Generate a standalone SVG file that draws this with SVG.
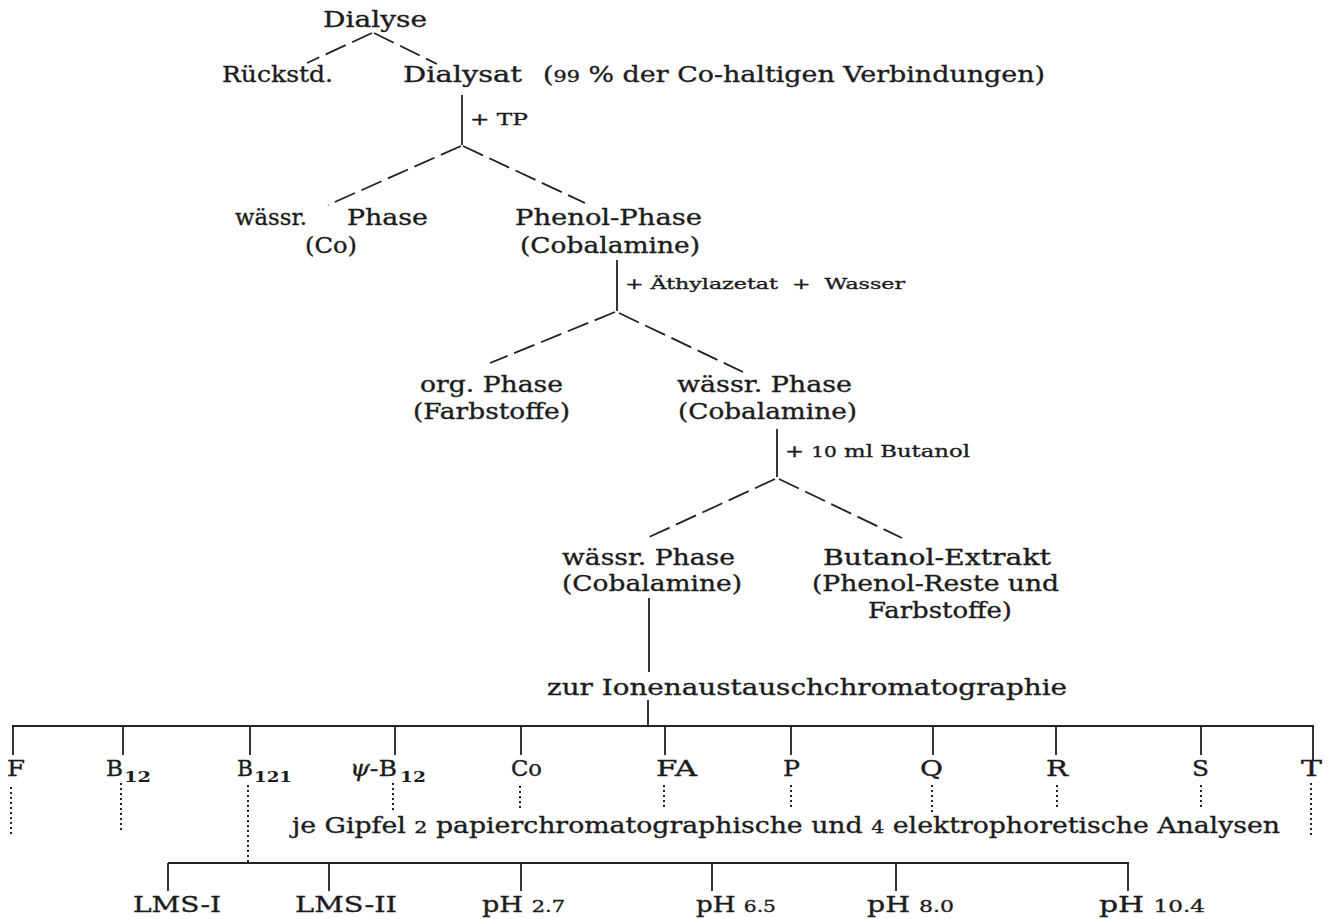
<svg xmlns="http://www.w3.org/2000/svg" width="1331" height="919" viewBox="0 0 1331 919">
<style>
.t{font-family:"DejaVu Serif","Liberation Serif",serif;font-size:22px;fill:#1c1c1c;stroke:#1c1c1c;stroke-width:0.35}
.s{font-size:17px}
.xs{font-size:15px}
.sub{font-size:15px;font-weight:bold;stroke-width:0}
.o{font-size:17px}
.c{stroke:#222;stroke-width:1.8;fill:none}
.d{stroke-dasharray:22 7}
.dot{stroke-dasharray:2 3;stroke-width:2}
</style>
<rect width="1331" height="919" fill="#fff"/>
<g id="connectors">
<path class="c d" d="M372 33L307 63M374 33L437 64"/>
<path class="c" d="M462 95V145"/>
<path class="c d" d="M461 146L328 205M463 146L585 203"/>
<path class="c" d="M617 260V311"/>
<path class="c d" d="M615 312L490 363M619 313L743 372"/>
<path class="c" d="M777 429V477"/>
<path class="c d" d="M775 479L647 538M779 479L902 538"/>
<path class="c" d="M649 598V672M648 700V726"/>
<path class="c" d="M12 726H1314M13 726V755M123 726V755M250 726V755M395 726V755M521 726V755M665 726V755M791 726V755M933 726V755M1056 726V755M1201 726V755M1313 726V760"/>
<path class="c dot" d="M11 787V837M121 783V833M248 785V862M393 783V810M520 786V809M664 785V810M791 785V810M932 785V812M1057 785V810M1201 785V810M1311 783V838"/>
<path class="c" d="M168 863H1129M168 863V891M329 863V891M521 863V891M712 863V891M896 863V891M1128 863V891"/>
</g>
<g id="n-dialyse"><text class="t" x="323" y="27" textLength="104" lengthAdjust="spacingAndGlyphs">Dialyse</text></g>
<g id="n-rueckstd"><text class="t" x="222" y="82" textLength="111" lengthAdjust="spacingAndGlyphs">Rückstd.</text></g>
<g id="n-dialysat">
<text class="t" x="403" y="82" textLength="119" lengthAdjust="spacingAndGlyphs">Dialysat</text>
<text class="t" x="543" y="82" textLength="502" lengthAdjust="spacingAndGlyphs">(<tspan class="o">99</tspan> % der Co-haltigen Verbindungen)</text>
</g>
<g id="l-tp"><text class="t s" x="470" y="125" textLength="58" lengthAdjust="spacingAndGlyphs">+ TP</text></g>
<g id="n-waessr1">
<text class="t" x="235" y="225" textLength="72" lengthAdjust="spacingAndGlyphs">wässr.</text>
<text class="t" x="347" y="225" textLength="81" lengthAdjust="spacingAndGlyphs">Phase</text>
<text class="t" x="305" y="253" textLength="52" lengthAdjust="spacingAndGlyphs">(Co)</text>
</g>
<g id="n-phenol">
<text class="t" x="515" y="225" textLength="187" lengthAdjust="spacingAndGlyphs">Phenol-Phase</text>
<text class="t" x="520" y="253" textLength="180" lengthAdjust="spacingAndGlyphs">(Cobalamine)</text>
</g>
<g id="l-aethyl"><text class="t xs" x="625" y="289" textLength="280" lengthAdjust="spacingAndGlyphs" xml:space="preserve">+ Äthylazetat  +  Wasser</text></g>
<g id="n-org">
<text class="t" x="420" y="392" textLength="143" lengthAdjust="spacingAndGlyphs">org. Phase</text>
<text class="t" x="413" y="419" textLength="157" lengthAdjust="spacingAndGlyphs">(Farbstoffe)</text>
</g>
<g id="n-waessr2">
<text class="t" x="677" y="392" textLength="175" lengthAdjust="spacingAndGlyphs">wässr. Phase</text>
<text class="t" x="678" y="419" textLength="179" lengthAdjust="spacingAndGlyphs">(Cobalamine)</text>
</g>
<g id="l-butanol"><text class="t s" x="785" y="457" textLength="185" lengthAdjust="spacingAndGlyphs">+ <tspan class="xs">10</tspan> ml Butanol</text></g>
<g id="n-waessr3">
<text class="t" x="562" y="565" textLength="173" lengthAdjust="spacingAndGlyphs">wässr. Phase</text>
<text class="t" x="562" y="591" textLength="180" lengthAdjust="spacingAndGlyphs">(Cobalamine)</text>
</g>
<g id="n-butext">
<text class="t" x="823" y="565" textLength="228" lengthAdjust="spacingAndGlyphs">Butanol-Extrakt</text>
<text class="t" x="812" y="591" textLength="247" lengthAdjust="spacingAndGlyphs">(Phenol-Reste und</text>
<text class="t" x="868" y="618" textLength="144" lengthAdjust="spacingAndGlyphs">Farbstoffe)</text>
</g>
<g id="n-zur"><text class="t" x="547" y="695" textLength="520" lengthAdjust="spacingAndGlyphs">zur Ionenaustauschchromatographie</text></g>
<g id="n-F"><text class="t" x="7" y="776" textLength="18" lengthAdjust="spacingAndGlyphs">F</text></g>
<g id="n-B12"><text class="t" x="106" y="776" textLength="17" lengthAdjust="spacingAndGlyphs">B</text><text class="t sub" x="124" y="782" textLength="27" lengthAdjust="spacingAndGlyphs">12</text></g>
<g id="n-B121"><text class="t" x="237" y="776" textLength="16" lengthAdjust="spacingAndGlyphs">B</text><text class="t sub" x="254" y="782" textLength="38" lengthAdjust="spacingAndGlyphs">121</text></g>
<g id="n-psiB12"><text class="t" x="350" y="776" textLength="47" lengthAdjust="spacingAndGlyphs"><tspan font-style="italic">ψ</tspan>-B</text><text class="t sub" x="400" y="782" textLength="26" lengthAdjust="spacingAndGlyphs">12</text></g>
<g id="n-Co"><text class="t" x="511" y="776" textLength="31" lengthAdjust="spacingAndGlyphs">Co</text></g>
<g id="n-FA"><text class="t" x="656" y="776" textLength="41" lengthAdjust="spacingAndGlyphs">FA</text></g>
<g id="n-P"><text class="t" x="783" y="776" textLength="17" lengthAdjust="spacingAndGlyphs">P</text></g>
<g id="n-Q"><text class="t" x="920" y="776" textLength="23" lengthAdjust="spacingAndGlyphs">Q</text></g>
<g id="n-R"><text class="t" x="1046" y="776" textLength="22" lengthAdjust="spacingAndGlyphs">R</text></g>
<g id="n-S"><text class="t" x="1192" y="776" textLength="17" lengthAdjust="spacingAndGlyphs">S</text></g>
<g id="n-T"><text class="t" x="1301" y="776" textLength="21" lengthAdjust="spacingAndGlyphs">T</text></g>
<g id="n-je"><text class="t" x="292" y="833" textLength="988" lengthAdjust="spacingAndGlyphs">je Gipfel <tspan class="o">2</tspan> papierchromatographische und <tspan class="o">4</tspan> elektrophoretische Analysen</text></g>
<g id="n-lms1"><text class="t" x="133" y="912" textLength="88" lengthAdjust="spacingAndGlyphs">LMS-I</text></g>
<g id="n-lms2"><text class="t" x="295" y="912" textLength="102" lengthAdjust="spacingAndGlyphs">LMS-II</text></g>
<g id="n-ph27"><text class="t" x="482" y="912" textLength="83" lengthAdjust="spacingAndGlyphs">pH <tspan class="o">2.7</tspan></text></g>
<g id="n-ph65"><text class="t" x="696" y="912" textLength="80" lengthAdjust="spacingAndGlyphs">pH <tspan class="o">6.5</tspan></text></g>
<g id="n-ph80"><text class="t" x="867" y="912" textLength="87" lengthAdjust="spacingAndGlyphs">pH <tspan class="o">8.0</tspan></text></g>
<g id="n-ph104"><text class="t" x="1099" y="912" textLength="106" lengthAdjust="spacingAndGlyphs">pH <tspan class="o">10.4</tspan></text></g>
</svg>
